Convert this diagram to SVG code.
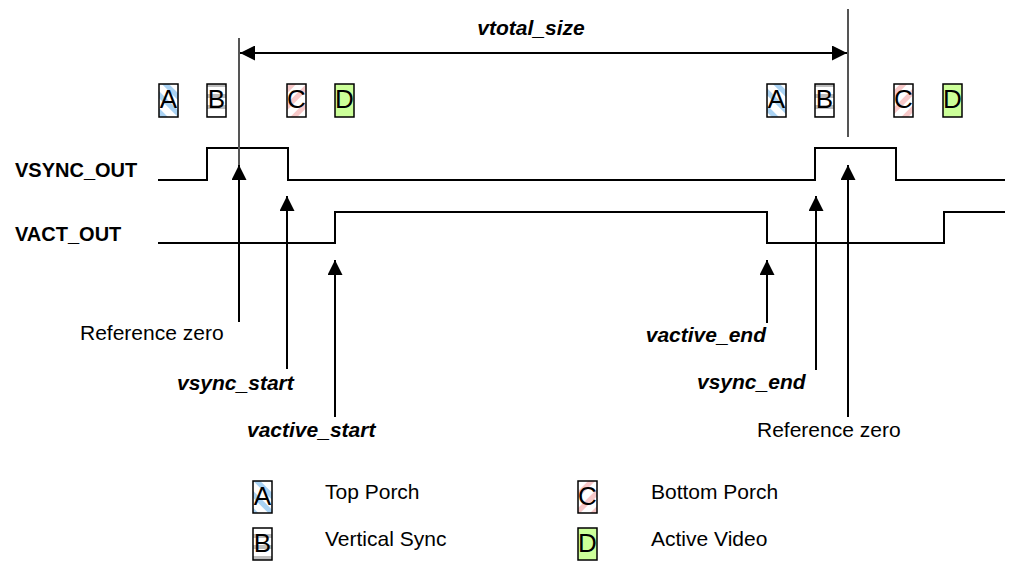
<svg xmlns="http://www.w3.org/2000/svg" width="1017" height="563" viewBox="0 0 1017 563">
  <style>
    text { font-family: "Liberation Sans", Arial, sans-serif; fill: #000; }
    .sig { font-size: 20px; font-weight: bold; }
    .lbl { font-size: 21px; }
    .ev { font-size: 21px; font-weight: bold; font-style: italic; }
    .key { font-size: 26px; text-anchor: middle; }
    .wave { fill: none; stroke: #000; stroke-width: 2; }
    .ref { stroke: #555; stroke-width: 2; }
    .ptr { stroke: #000; stroke-width: 2; marker-end: url(#head); }
    .dim { stroke: #000; stroke-width: 2; marker-start: url(#head); marker-end: url(#head); }
    .box { stroke: #000; stroke-width: 1.5; }
  </style>
  <defs>
    <marker id="head" viewBox="0 0 15 15" refX="15" refY="7.5" markerWidth="15" markerHeight="15" markerUnits="userSpaceOnUse" orient="auto-start-reverse">
      <path d="M0,0 L15,7.5 L0,15 Z" fill="#000"/>
    </marker>
    <pattern id="porchTop" width="12" height="12" patternUnits="userSpaceOnUse" patternTransform="rotate(45)">
      <rect width="12" height="12" fill="#fff"/>
      <rect width="12" height="5" fill="#a9d2f3"/>
    </pattern>
    <pattern id="porchBottom" width="12" height="12" patternUnits="userSpaceOnUse" patternTransform="rotate(-45)">
      <rect width="12" height="12" fill="#fff"/>
      <rect width="12" height="5" fill="#f7c8c8"/>
    </pattern>
    <pattern id="sync" width="11" height="11" patternUnits="userSpaceOnUse">
      <rect width="11" height="11" fill="#fff"/>
      <rect y="6" width="11" height="4" fill="#bdbdbd"/>
    </pattern>
  </defs>

  <!-- signal names -->
  <g id="vsync-label"><text class="sig" x="15" y="177">VSYNC_OUT</text></g>
  <g id="vact-label"><text class="sig" x="15" y="241">VACT_OUT</text></g>

  <!-- total period -->
  <g id="vtotal"><text class="ev" x="531" y="35" text-anchor="middle">vtotal_size</text></g>

  <!-- phase keys along the waveform -->
  <g id="key-a1"><rect class="box" x="159" y="84" width="19" height="33" fill="url(#porchTop)"/><text class="key" x="168.5" y="108">A</text></g>
  <g id="key-b1"><rect class="box" x="207" y="84" width="19" height="33" fill="url(#sync)"/><text class="key" x="216.5" y="108">B</text></g>
  <g id="key-c1"><rect class="box" x="287" y="84" width="19" height="33" fill="url(#porchBottom)"/><text class="key" x="296.5" y="108">C</text></g>
  <g id="key-d1"><rect class="box" x="335" y="84" width="19" height="33" fill="#ccff99"/><text class="key" x="344.5" y="108">D</text></g>
  <g id="key-a2"><rect class="box" x="767" y="84" width="19" height="33" fill="url(#porchTop)"/><text class="key" x="776.5" y="108">A</text></g>
  <g id="key-b2"><rect class="box" x="815" y="84" width="19" height="33" fill="url(#sync)"/><text class="key" x="824.5" y="108">B</text></g>
  <g id="key-c2"><rect class="box" x="894" y="84" width="19" height="33" fill="url(#porchBottom)"/><text class="key" x="903.5" y="108">C</text></g>
  <g id="key-d2"><rect class="box" x="943" y="84" width="19" height="33" fill="#ccff99"/><text class="key" x="952.5" y="108">D</text></g>

  <!-- waveforms -->
  <g id="vsync-wave"><path class="wave" d="M158,180 H207 V148 H288 V180 H815 V148 H896 V180 H1005"/></g>
  <g id="vact-wave"><path class="wave" d="M158,243 H335 V212 H767 V243 H944 V212 H1005"/></g>

  <!-- event labels -->
  <g id="ref-zero-1"><text class="lbl" x="80" y="340">Reference zero</text></g>
  <g id="vsync-start"><text class="ev" x="177" y="390">vsync_start</text></g>
  <g id="vactive-start"><text class="ev" x="247" y="437">vactive_start</text></g>
  <g id="vactive-end"><text class="ev" x="766" y="342" text-anchor="end">vactive_end</text></g>
  <g id="vsync-end"><text class="ev" x="697" y="389">vsync_end</text></g>
  <g id="ref-zero-2"><text class="lbl" x="757" y="437">Reference zero</text></g>

  <!-- legend -->
  <g id="legend-a"><rect class="box" x="253" y="481" width="19" height="32" fill="url(#porchTop)"/><text class="key" x="262.5" y="505">A</text><text class="lbl" x="325" y="499">Top Porch</text></g>
  <g id="legend-b"><rect class="box" x="253" y="528" width="19" height="32" fill="url(#sync)"/><text class="key" x="262.5" y="552">B</text><text class="lbl" x="325" y="546">Vertical Sync</text></g>
  <g id="legend-c"><rect class="box" x="578" y="481" width="19" height="32" fill="url(#porchBottom)"/><text class="key" x="587.5" y="505">C</text><text class="lbl" x="651" y="499">Bottom Porch</text></g>
  <g id="legend-d"><rect class="box" x="578" y="528" width="19" height="32" fill="#ccff99"/><text class="key" x="587.5" y="552">D</text><text class="lbl" x="651" y="546">Active Video</text></g>

  <!-- connectors -->
  <g id="connectors">
    <line class="ref" x1="239" y1="38" x2="239" y2="170"/>
    <line class="ref" x1="848" y1="9" x2="848" y2="137"/>
    <line class="dim" x1="240" y1="53" x2="847" y2="53"/>
    <line class="ptr" x1="239" y1="322" x2="239" y2="165"/>
    <line class="ptr" x1="287" y1="369" x2="287" y2="196"/>
    <line class="ptr" x1="335" y1="417" x2="335" y2="260"/>
    <line class="ptr" x1="767" y1="323" x2="767" y2="260"/>
    <line class="ptr" x1="816" y1="370" x2="816" y2="196"/>
    <line class="ptr" x1="848" y1="417" x2="848" y2="165"/>
  </g>
</svg>
